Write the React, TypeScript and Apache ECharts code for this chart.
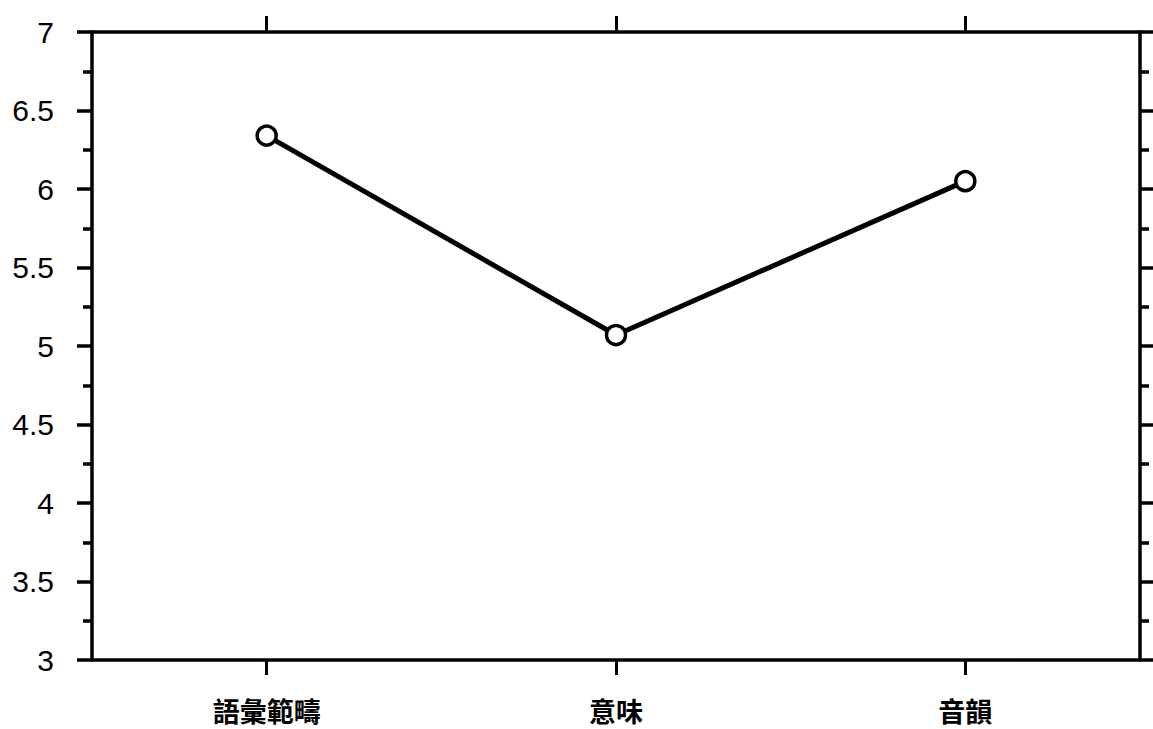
import React, { useEffect, useRef } from "react";
import * as echarts from "echarts";

const categories = ["語彙範疇", "意味", "音韻"];
const values = [6.34, 5.07, 6.05];
const yMin = 3;
const yMax = 7;
const yInterval = 0.5;

export default function App() {
  const ref = useRef<HTMLDivElement>(null);
  useEffect(() => {
    if (!ref.current) return;
    const chart = echarts.init(ref.current, undefined, { renderer: "svg" });
    const axisLine = { show: true, lineStyle: { color: "#000", width: 3.5 } };
    const yCommon = {
      type: "value" as const,
      min: yMin,
      max: yMax,
      interval: yInterval,
      axisLine,
      splitLine: { show: false },
      axisTick: { show: true, length: 15, lineStyle: { color: "#000", width: 3.5 } },
      minorTick: { show: true, splitNumber: 2, length: 9, lineStyle: { color: "#000", width: 3.5 } },
    };
    chart.setOption({
      animation: false,
      backgroundColor: "#fff",
      grid: { left: 92, right: 1153 - 1140, top: 32, bottom: 729 - 660 },
      xAxis: [
        {
          type: "category",
          data: categories,
          position: "bottom",
          axisLine,
          axisTick: { show: true, alignWithLabel: true, length: 15, lineStyle: { color: "#000", width: 3 } },
          axisLabel: {
            color: "#000",
            fontSize: 27,
            lineHeight: 28,
            fontFamily: "Noto Sans CJK TC",
            fontWeight: "bold",
            margin: 36,
          },
        },
        {
          type: "category",
          data: categories,
          position: "top",
          axisLine,
          axisTick: { show: true, alignWithLabel: true, length: 16, lineStyle: { color: "#000", width: 3 } },
          axisLabel: { show: false },
        },
      ],
      yAxis: [
        {
          ...yCommon,
          position: "left",
          axisLabel: {
            color: "#000",
            fontSize: 30,
            fontFamily: "Liberation Sans",
            margin: 38,
          },
        },
        {
          ...yCommon,
          position: "right",
          axisLabel: { show: false },
        },
      ],
      series: [
        {
          type: "line",
          data: values,
          xAxisIndex: 0,
          yAxisIndex: 0,
          symbol: "circle",
          symbolSize: 19,
          lineStyle: { color: "#000", width: 5 },
          itemStyle: { color: "#fff", borderColor: "#000", borderWidth: 3.5 },
        },
      ],
    });
    return () => chart.dispose();
  }, []);
  return (
    <div
      ref={ref}
      style={{ position: "fixed", left: 0, top: 0, width: 1153, height: 729, background: "#fff" }}
    />
  );
}
